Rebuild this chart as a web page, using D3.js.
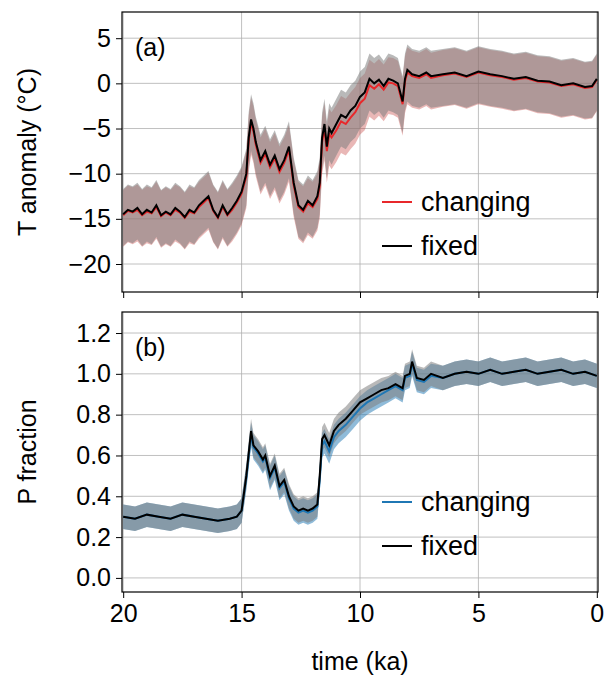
<!DOCTYPE html>
<html><head><meta charset="utf-8">
<script src="https://cdn.jsdelivr.net/npm/d3@7"></script>
<style>
body{margin:0;background:#fff}
text{font-family:"Liberation Sans",Arial,sans-serif}
</style></head><body>
<svg id="chart" width="606" height="687"></svg>
<script>
// time (ka) knots
var tTime = [20,19.8,19.6,19.4,19.2,19,18.8,18.6,18.4,18.2,18,17.8,17.6,17.4,17.2,17,16.8,16.6,16.4,16.2,16,15.8,15.6,15.4,15.2,15,14.8,14.7,14.6,14.5,14.4,14.2,14,13.8,13.6,13.4,13.2,13,12.9,12.8,12.6,12.4,12.2,12,11.8,11.7,11.6,11.5,11.4,11.3,11.2,11,10.8,10.6,10.4,10.2,10,9.8,9.6,9.4,9.2,9,8.8,8.6,8.4,8.2,8.1,8,7.8,7.5,7.2,7,6.5,6,5.5,5,4.5,4,3.5,3,2.5,2,1.5,1,0.5,0.2,0];
var tFixed = [-14.5,-14,-14.2,-13.8,-14.5,-14,-14.3,-13.5,-14.6,-14.2,-14.5,-13.8,-14.2,-14.8,-14,-14.3,-13.5,-13,-12.5,-14,-14.8,-13.5,-14.5,-13.8,-13,-12,-10,-6,-4,-5,-6.5,-8.5,-7.5,-9,-8,-9.5,-8.5,-7,-9,-11,-13.5,-14,-13,-13.5,-12.5,-11,-6,-4.5,-7,-5,-5.5,-4.5,-3.5,-3.8,-3,-2.5,-1.5,-1,0.5,0,0.4,-0.3,0.5,0.3,0,-2,0.5,1.5,1,0.8,1.2,0.8,1,1.2,0.8,1.3,1,0.8,0.5,0.7,0.3,0.2,-0.2,0,-0.4,-0.3,0.5];
var tChanging = [-14.6,-14.1,-14.3,-14,-14.6,-14.2,-14.4,-13.7,-14.7,-14.3,-14.6,-14,-14.3,-14.9,-14.2,-14.4,-13.7,-13.2,-12.7,-14.1,-14.9,-13.7,-14.6,-14,-13.2,-12.2,-10.3,-6.4,-4.4,-5.3,-6.8,-8.8,-7.8,-9.3,-8.3,-9.8,-8.8,-7.4,-9.3,-11.3,-13.7,-14.2,-13.3,-13.7,-12.8,-11.4,-6.5,-5,-7.5,-5.6,-6,-5.2,-4.2,-4.5,-3.8,-3.2,-2.2,-1.7,-0.2,-0.6,-0.1,-0.7,0.1,0,-0.3,-2.3,0.2,1.2,0.8,0.6,1,0.6,0.9,1.1,0.7,1.2,0.9,0.7,0.4,0.6,0.2,0.1,-0.3,-0.1,-0.5,-0.4,0.4];
var tSpreadLo = 3.5, tSpreadHi = 2.8;

var pTime = [20,19.5,19,18.5,18,17.5,17,16.5,16,15.5,15.2,15,14.8,14.6,14.5,14.3,14.1,14,13.8,13.6,13.4,13.2,13,12.8,12.6,12.4,12.2,12,11.8,11.7,11.6,11.5,11.3,11.1,10.9,10.6,10.3,10,9.7,9.4,9.1,8.8,8.5,8.2,8.1,7.9,7.8,7.6,7.3,7,6.5,6,5.5,5,4.5,4,3.5,3,2.5,2,1.5,1,0.5,0];
var pFixed = [0.3,0.29,0.31,0.3,0.29,0.31,0.3,0.29,0.28,0.29,0.3,0.33,0.5,0.72,0.65,0.62,0.58,0.6,0.5,0.55,0.45,0.48,0.4,0.35,0.33,0.34,0.33,0.34,0.36,0.5,0.68,0.7,0.65,0.72,0.75,0.78,0.82,0.86,0.88,0.9,0.92,0.93,0.95,0.93,0.99,1,1.06,0.98,0.97,1,0.98,1,1.01,1,1.02,1,1.01,1.02,1,1.01,1.02,1,1.01,0.99];
var pChanging = [0.3,0.29,0.31,0.3,0.29,0.31,0.3,0.29,0.28,0.29,0.3,0.33,0.49,0.7,0.64,0.61,0.57,0.59,0.49,0.54,0.44,0.47,0.39,0.34,0.32,0.33,0.32,0.33,0.35,0.48,0.65,0.67,0.62,0.69,0.72,0.75,0.79,0.83,0.86,0.88,0.9,0.92,0.94,0.92,0.98,0.99,1.05,0.97,0.96,0.99,0.98,1,1.01,1,1.02,1,1.01,1.02,1,1.01,1.02,1,1.01,0.99];
var pSpread = 0.06;

var xTicks = [20,15,10,5,0];
var tTicks = [5,0,-5,-10,-15,-20];
var pTicks = [0,0.2,0.4,0.6,0.8,1.0,1.2];

var svg = d3.select("#chart");
var L = 122, R = 598, FS = 25;
var x = d3.scaleLinear().domain([20.05,-0.05]).range([L,R]);

function panel(top, bottom, domain, ticks, fmt, times, fixed, chg, lo, hi, col, bandCol, bandOp, label, ylabel, showX) {
    var y = d3.scaleLinear().domain(domain).range([bottom, top]);
    var g = svg.append("g");
    g.append("g").selectAll("line").data(xTicks).enter().append("line")
        .attr("x1", x).attr("x2", x).attr("y1", top).attr("y2", bottom)
        .attr("stroke", "#b0b0b0").attr("stroke-width", 0.8);
    g.append("g").selectAll("line").data(ticks).enter().append("line")
        .attr("x1", L).attr("x2", R).attr("y1", y).attr("y2", y)
        .attr("stroke", "#b0b0b0").attr("stroke-width", 0.8);

    var pts = times.map(function (t, i) { return {t: t, f: fixed[i], c: chg[i]}; });
    var area = function (key) {
        return d3.area().x(function (d) { return x(d.t); })
            .y0(function (d) { return y(d[key] - lo); })
            .y1(function (d) { return y(d[key] + hi); });
    };
    g.append("path").datum(pts).attr("d", area("c")).attr("fill", bandCol).attr("fill-opacity", bandOp);
    g.append("path").datum(pts).attr("d", area("f")).attr("fill", "#808080").attr("fill-opacity", 0.55);
    g.append("path").datum(pts).attr("fill", "none").attr("stroke", col).attr("stroke-width", 2)
        .attr("d", d3.line().x(function (d) { return x(d.t); }).y(function (d) { return y(d.c); }));
    g.append("path").datum(pts).attr("fill", "none").attr("stroke", "#000").attr("stroke-width", 2)
        .attr("d", d3.line().x(function (d) { return x(d.t); }).y(function (d) { return y(d.f); }));

    g.append("rect").attr("x", L).attr("y", top).attr("width", R - L).attr("height", bottom - top)
        .attr("fill", "none").attr("stroke", "#000").attr("stroke-width", 1.2);

    var ya = g.append("g").attr("transform", "translate(" + L + ",0)")
        .call(d3.axisLeft(y).tickValues(ticks).tickFormat(fmt).tickSize(6).tickPadding(5));
    ya.select(".domain").remove();
    ya.selectAll("text").attr("font-size", FS).attr("font-family", "Liberation Sans");
    var xa = g.append("g").attr("transform", "translate(0," + bottom + ")")
        .call(d3.axisBottom(x).tickValues(xTicks).tickSize(6).tickPadding(6).tickFormat(showX ? d3.format("d") : ""));
    xa.select(".domain").remove();
    xa.selectAll("text").attr("font-size", FS).attr("font-family", "Liberation Sans");

    g.append("text").attr("x", 135).attr("y", top + 44).attr("font-size", FS).text(label);
    g.append("text").attr("transform", "translate(36," + ((top + bottom) / 2) + ") rotate(-90)")
        .attr("text-anchor", "middle").attr("font-size", FS).text(ylabel);

    var ly = [top + 199, top + 243], names = ["changing", "fixed"], cols = [col, "#000"];
    ly.forEach(function (yy, i) {
        g.append("line").attr("x1", 382).attr("x2", 412).attr("y1", yy - 9).attr("y2", yy - 9)
            .attr("stroke", cols[i]).attr("stroke-width", 2);
        g.append("text").attr("x", 421).attr("y", yy).attr("font-size", 27).text(names[i]);
    });
}

var uni = function (d) { return d < 0 ? "\u2212" + Math.abs(d) : d; };
panel(12, 292, [-23.1, 7.9], tTicks, uni, tTime, tFixed, tChanging, tSpreadLo, tSpreadHi,
    "#e8282b", "#c0302f", 0.35, "(a)", "T anomaly (\u00b0C)", false);
panel(312, 592, [-0.069, 1.303], pTicks, d3.format(".1f"), pTime, pFixed, pChanging, pSpread, pSpread,
    "#1f77b4", "#1f77b4", 0.5, "(b)", "P fraction", true);

svg.append("text").attr("x", 360).attr("y", 670).attr("text-anchor", "middle").attr("font-size", FS).text("time (ka)");
</script>
</body></html>
